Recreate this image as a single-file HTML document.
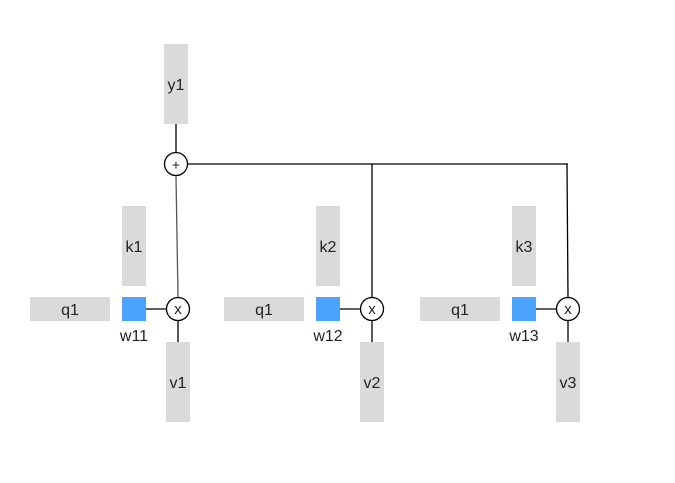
<!DOCTYPE html>
<html><head><meta charset="utf-8"><style>
html,body{margin:0;padding:0;background:#fff;}
text{font-family:"Liberation Sans",sans-serif;font-size:16px;fill:#222;}
</style></head><body>
<svg width="675" height="478" viewBox="0 0 675 478" xmlns="http://www.w3.org/2000/svg">
<g>
<rect x="164" y="44" width="24" height="80" fill="#dadada"/>
<text x="176" y="90" text-anchor="middle">y1</text>
<line x1="176" y1="124" x2="176" y2="153" stroke="#000" stroke-width="1.3"/>
</g>
<line x1="188" y1="164" x2="568" y2="164" stroke="#000" stroke-width="1.3"/>
<line x1="372" y1="164" x2="372" y2="297" stroke="#000" stroke-width="1.3"/>
<line x1="567" y1="164" x2="568" y2="297" stroke="#000" stroke-width="1.3"/>
<line x1="176" y1="176" x2="178" y2="297" stroke="#555" stroke-width="1.3"/>
<g>
<circle cx="176" cy="164" r="11.5" fill="#fff" stroke="#000" stroke-width="1.3"/>
<text x="176" y="169.5" text-anchor="middle" style="font-size:14px">+</text>
</g>
<g id="groups"></g>
</svg>
<script>
const groupOffsets=[0,194,390];
const keys=['k1','k2','k3'];
const values=['v1','v2','v3'];
const weights=['w11','w12','w13'];
const ns='http://www.w3.org/2000/svg';
const G=document.getElementById('groups');
function mk(t,a,txt){const e=document.createElementNS(ns,t);for(const k in a)e.setAttribute(k,a[k]);if(txt)e.textContent=txt;return e;}
groupOffsets.forEach((o,i)=>{
 const g=mk('g',{});
 
 
 g.appendChild(mk('rect',{x:30+o,y:297,width:80,height:24,fill:'#dadada'}));
 g.appendChild(mk('text',{x:70+o,y:315,'text-anchor':'middle'},'q1'));
 g.appendChild(mk('rect',{x:122+o,y:206,width:24,height:80,fill:'#dadada'}));
 g.appendChild(mk('text',{x:134+o,y:252,'text-anchor':'middle'},keys[i]));
 g.appendChild(mk('line',{x1:146+o,y1:309,x2:166+o,y2:309,stroke:'#000','stroke-width':1.3}));
 g.appendChild(mk('rect',{x:122+o,y:297,width:24,height:24,fill:'#4aa3ff'}));
 g.appendChild(mk('text',{x:134+o,y:341,'text-anchor':'middle'},weights[i]));
 g.appendChild(mk('line',{x1:178+o,y1:321,x2:178+o,y2:342,stroke:'#000','stroke-width':1.3}));
 g.appendChild(mk('rect',{x:166+o,y:342,width:24,height:80,fill:'#dadada'}));
 g.appendChild(mk('text',{x:178+o,y:388,'text-anchor':'middle'},values[i]));
 g.appendChild(mk('circle',{cx:178+o,cy:309,r:11.5,fill:'#fff',stroke:'#000','stroke-width':1.3}));
 g.appendChild(mk('text',{x:178+o,y:314,'text-anchor':'middle',style:'font-size:15px'},'x'));
 G.appendChild(g);
});
</script>
</body></html>
